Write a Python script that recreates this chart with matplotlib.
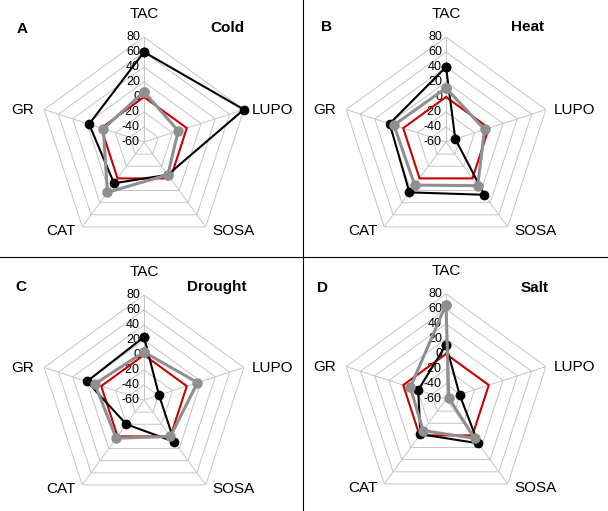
import numpy as np
import matplotlib.pyplot as plt
from matplotlib.lines import Line2D

plt.rcParams['font.family'] = ['Liberation Sans', 'DejaVu Sans']

# radar axes, clockwise from the top
spokes = ['TAC', 'LUPO', 'SOSA', 'CAT', 'GR']
rings = [-60, -40, -20, 0, 20, 40, 60, 80]

letters = ['A', 'B', 'C', 'D']
stress = ['Cold', 'Heat', 'Drought', 'Salt']

# values in the order TAC, LUPO, SOSA, CAT, GR
control = [0, 0, 0, 0, 0]
black_A = [60, 80, -6, 8, 17]
grey_A = [7, -12, -6, 23, -3]
black_B = [40, -47, 27, 23, 19]
grey_B = [12, -6, 12, 11, 13]
black_C = [24, -39, 9, -20, 20]
grey_C = [4, 15, 0, 3, 9]
black_D = [12, -41, 13, -2, -21]
grey_D = [66, -56, 5, -8, -10]

blacks = [black_A, black_B, black_C, black_D]
greys = [grey_A, grey_B, grey_C, grey_D]

W, H = 608, 511
R = 105
centres = [(144, 142), (446, 142), (144, 400), (446, 399)]
title_pos = [(210, 28), (511, 27), (187, 287), (521, 288)]
letter_pos = [(22, 29), (326, 27), (21, 287), (322, 288)]

fig = plt.figure(figsize=(W / 100, H / 100), dpi=100)

theta = np.deg2rad(np.arange(5) * 72)
theta_c = np.append(theta, theta[0])

grid_col = '#c4c4c4'
grey_col = '#8f8f8f'
red_col = '#cc0000'

for k in range(4):
    cx, cy = centres[k]
    ax = fig.add_axes([(cx - R) / W, 1 - (cy + R) / H, 2 * R / W, 2 * R / H],
                      projection='polar')
    ax.set_theta_offset(np.pi / 2)
    ax.set_theta_direction(-1)
    ax.set_rlim(-60, 80)
    ax.grid(False)
    ax.set_xticks([])
    ax.set_yticks([])
    ax.spines['polar'].set_visible(False)

    # pentagon grid and spokes
    for v in rings[1:]:
        ax.plot(theta_c, [v] * 6, color=grid_col, lw=0.7, zorder=1)
    for t in theta:
        ax.plot([t, t], [-60, 80], color=grid_col, lw=0.7, zorder=1)

    for v in rings:
        ax.annotate(str(v), (0, v), xytext=(-4, 0), textcoords='offset pixels',
                    ha='right', va='center', fontsize=9)

    ax.plot(theta_c, control + control[:1], color=red_col, lw=1.5,
            zorder=3, clip_on=False)
    b = blacks[k]
    ax.plot(theta_c, b + b[:1], color='black', lw=1.5, marker='o', ms=6,
            zorder=4, clip_on=False)
    g = greys[k]
    ax.plot(theta_c, g + g[:1], color=grey_col, lw=2.2, marker='o', ms=6.5,
            zorder=5, clip_on=False)

    offs = [(0, 16, 'center', 'bottom'), (8, 0, 'left', 'center'),
            (7, -4, 'left', 'center'), (-7, -4, 'right', 'center'),
            (-10, 0, 'right', 'center')]
    for t, name, (dx, dy, ha, va) in zip(theta, spokes, offs):
        ax.annotate(name, (t, 80), xytext=(dx, dy), textcoords='offset pixels',
                    ha=ha, va=va, fontsize=11)

    lx, ly = letter_pos[k]
    fig.text(lx / W, 1 - ly / H, letters[k], ha='center', va='center',
             fontsize=11, fontweight='bold')
    tx, ty = title_pos[k]
    fig.text(tx / W, 1 - ty / H, stress[k], ha='left', va='center',
             fontsize=11, fontweight='bold')

fig.add_artist(Line2D([303 / W, 303 / W], [0, 1], color='black', lw=0.8))
fig.add_artist(Line2D([0, 1], [1 - 257 / H, 1 - 257 / H], color='black', lw=0.8))

fig.savefig('out.png', dpi=100)
